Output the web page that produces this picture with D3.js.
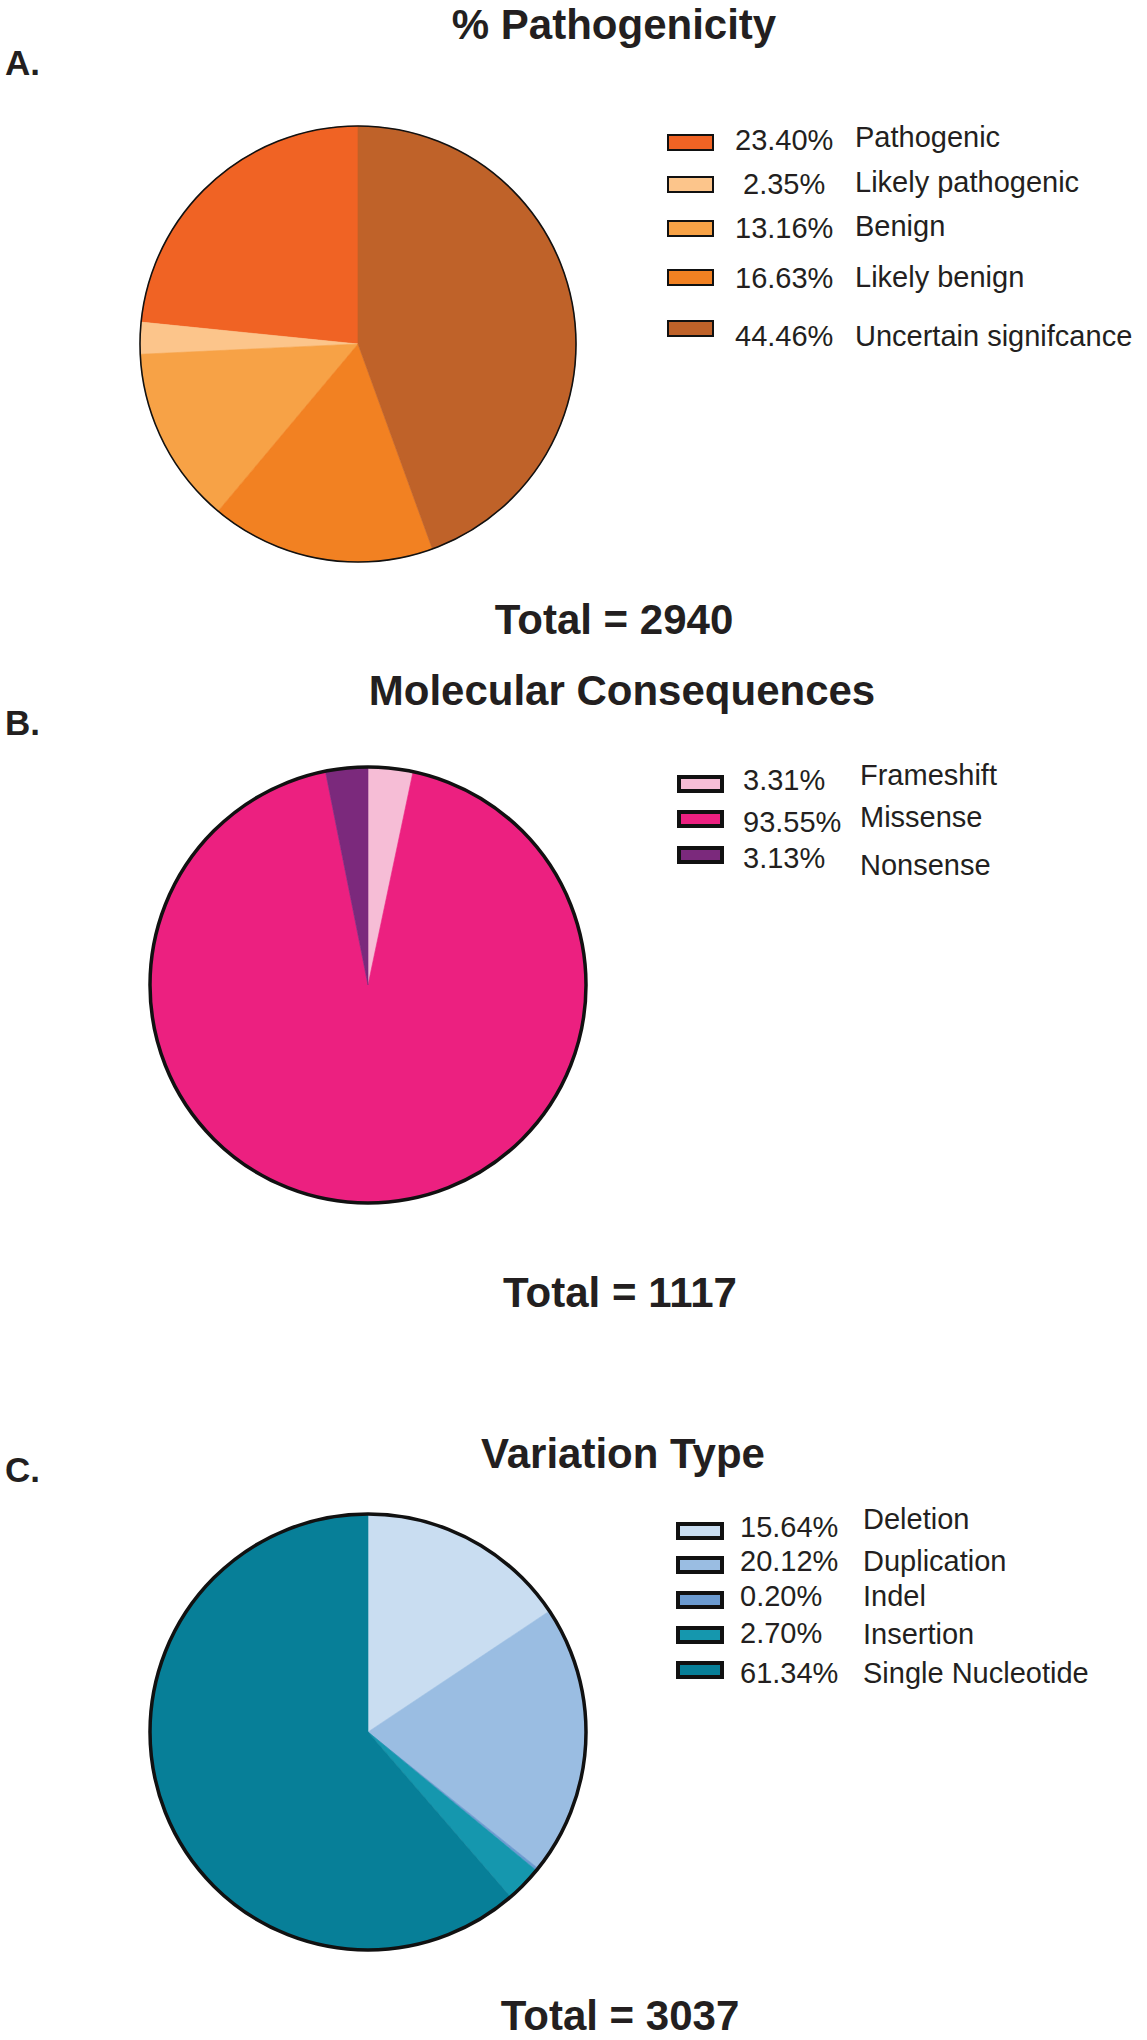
<!DOCTYPE html>
<html>
<head>
<meta charset="utf-8">
<script src="https://cdn.jsdelivr.net/npm/d3@7"></script>
<style>
  html, body { margin: 0; padding: 0; background: #ffffff; }
  svg { display: block; }
  text { font-family: "Liberation Sans", Arial, Helvetica, sans-serif; fill: #231f20; }
</style>
</head>
<body>
<svg id="chart" width="1147" height="2040"></svg>
<script>
// ---------- DATA ----------
const pathTitle = "% Pathogenicity";
const pathCategories = ["Pathogenic", "Likely pathogenic", "Benign", "Likely benign", "Uncertain signifcance"];
const pathValues = [23.40, 2.35, 13.16, 16.63, 44.46];
const pathColors = ["#f06324", "#fcc58b", "#f7a246", "#f28122", "#bf6229"];
const pathTotal = 2940;

const molTitle = "Molecular Consequences";
const molCategories = ["Frameshift", "Missense", "Nonsense"];
const molValues = [3.31, 93.55, 3.13];
const molColors = ["#f6bdd6", "#ec2080", "#7b297c"];
const molTotal = 1117;

const varTitle = "Variation Type";
const varCategories = ["Deletion", "Duplication", "Indel", "Insertion", "Single Nucleotide"];
const varValues = [15.64, 20.12, 0.20, 2.70, 61.34];
const varColors = ["#c9ddf1", "#9abde2", "#6b9ad0", "#1597ae", "#077f98"];
const varTotal = 3037;

const panelLetters = ["A.", "B.", "C."];

// ---------- LAYOUT ----------
const panels = [
  {
    letter: panelLetters[0], title: pathTitle, cats: pathCategories, vals: pathValues, colors: pathColors, total: pathTotal,
    letterY: 75, titleX: 614, titleY: 39, totalX: 614, totalY: 634,
    cx: 358, cy: 344, r: 218, outline: 1.6, ccw: true,
    sw: { x: 668, w: 45, h: 15, stroke: 2, tops: [135, 177, 221, 270, 321] },
    pctX: 735, pctDx: [0, 8, 0, 0, 0], pctY: [150, 194, 238, 288, 346],
    nameX: 855, nameY: [147, 192, 236, 287, 346]
  },
  {
    letter: panelLetters[1], title: molTitle, cats: molCategories, vals: molValues, colors: molColors, total: molTotal,
    letterY: 735, titleX: 622, titleY: 705, totalX: 620, totalY: 1307,
    cx: 368, cy: 985, r: 218, outline: 3.5, ccw: false,
    sw: { x: 679, w: 43, h: 14, stroke: 4, tops: [777, 812, 848] },
    pctX: 743, pctDx: [0, 0, 0], pctY: [790, 832, 868],
    nameX: 860, nameY: [785, 827, 875]
  },
  {
    letter: panelLetters[2], title: varTitle, cats: varCategories, vals: varValues, colors: varColors, total: varTotal,
    letterY: 1482, titleX: 623, titleY: 1468, totalX: 620, totalY: 2030,
    cx: 368, cy: 1732, r: 218, outline: 3.5, ccw: false,
    sw: { x: 678, w: 44, h: 14, stroke: 4, tops: [1524, 1558, 1593, 1628, 1663] },
    pctX: 740, pctDx: [0, 0, 0, 0, 0], pctY: [1537, 1571, 1606, 1643, 1683],
    nameX: 863, nameY: [1529, 1571, 1606, 1644, 1683]
  }
];

const svg = d3.select("#chart");
const fmtPct = v => v.toFixed(2) + "%";

panels.forEach(p => {
  const g = svg.append("g");

  // panel letter
  g.append("text").attr("x", 5).attr("y", p.letterY)
    .attr("font-size", 35).attr("font-weight", "bold").text(p.letter);

  // title
  g.append("text").attr("x", p.titleX).attr("y", p.titleY)
    .attr("text-anchor", "middle").attr("font-size", 42).attr("font-weight", "bold")
    .text(p.title);

  // total
  g.append("text").attr("x", p.totalX).attr("y", p.totalY)
    .attr("text-anchor", "middle").attr("font-size", 42).attr("font-weight", "bold")
    .text("Total = " + p.total);

  // pie
  const pie = d3.pie().sort(null).value(d => d)
    .startAngle(0).endAngle(p.ccw ? -2 * Math.PI : 2 * Math.PI);
  const arc = d3.arc().innerRadius(0).outerRadius(p.r);
  const color = d3.scaleOrdinal().domain(p.cats).range(p.colors);
  const arcs = pie(p.vals);

  const pg = g.append("g").attr("transform", `translate(${p.cx},${p.cy})`);
  pg.selectAll("path.slice").data(arcs).join("path")
    .attr("class", "slice")
    .attr("d", arc)
    .attr("fill", (d, i) => color(p.cats[i]))
    .attr("stroke", (d, i) => color(p.cats[i]))
    .attr("stroke-width", 0.6);
  pg.append("circle").attr("r", p.r)
    .attr("fill", "none").attr("stroke", "#111").attr("stroke-width", p.outline);

  // legend
  const lg = g.append("g");
  p.cats.forEach((c, i) => {
    lg.append("rect")
      .attr("x", p.sw.x).attr("y", p.sw.tops[i])
      .attr("width", p.sw.w).attr("height", p.sw.h)
      .attr("fill", color(c)).attr("stroke", "#111").attr("stroke-width", p.sw.stroke);
    lg.append("text")
      .attr("x", p.pctX + p.pctDx[i]).attr("y", p.pctY[i])
      .attr("font-size", 29).text(fmtPct(p.vals[i]));
    lg.append("text")
      .attr("x", p.nameX).attr("y", p.nameY[i])
      .attr("font-size", 29).text(c);
  });
});
</script>
</body>
</html>
